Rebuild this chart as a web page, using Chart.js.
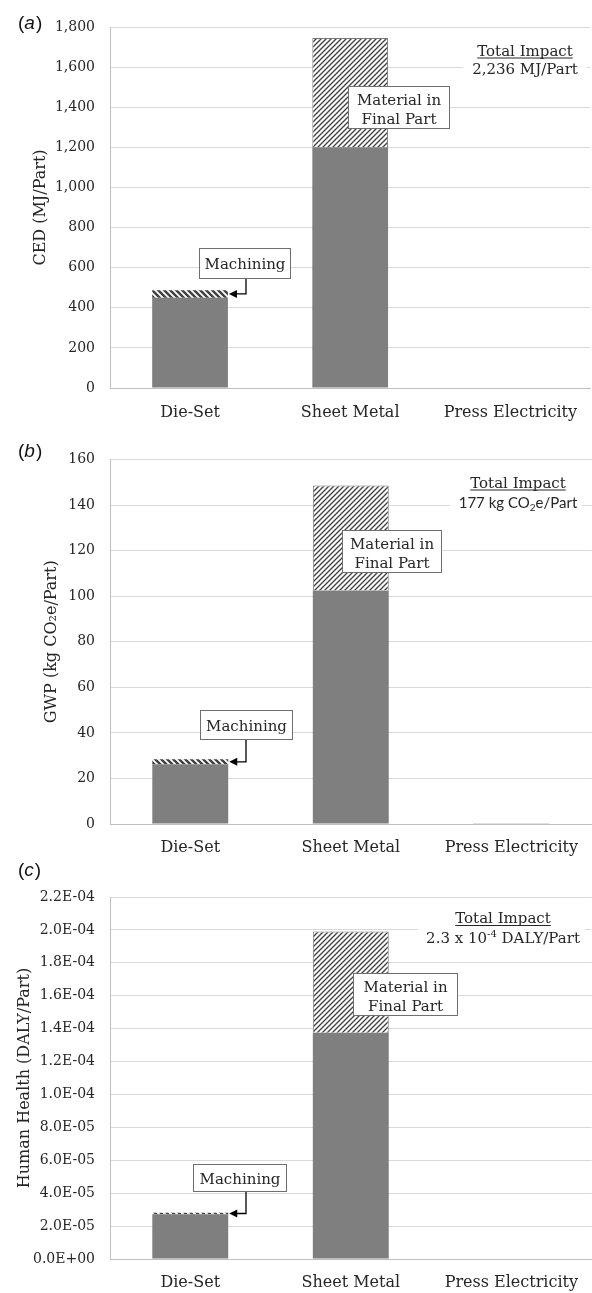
<!DOCTYPE html>
<html>
<head>
<meta charset="utf-8">
<script src="https://cdn.jsdelivr.net/npm/chart.js@4.4.1/dist/chart.umd.min.js"></script>
<style>
  body { margin: 0; background: #fff; }
  canvas { position: absolute; left: 0; }
</style>
</head>
<body>
<canvas id="cedChart" width="592" height="430" style="top:0px"></canvas>
<canvas id="gwpChart" width="592" height="430" style="top:430px"></canvas>
<canvas id="hhChart" width="592" height="433" style="top:860px"></canvas>
<script>
const categories = ['Die-Set', 'Sheet Metal', 'Press Electricity'];

// (a) CED, MJ/Part
const cedBase = [450, 1200, 3];
const cedMachining = [38, null, null];
const cedMaterial = [null, 545, null];
const cedTicks = [0, 200, 400, 600, 800, 1000, 1200, 1400, 1600, 1800];
const cedTickLabels = ['0', '200', '400', '600', '800', '1,000', '1,200', '1,400', '1,600', '1,800'];

// (b) GWP, kg CO2e/Part
const gwpBase = [26.2, 102.5, 0.3];
const gwpMachining = [2.2, null, null];
const gwpMaterial = [null, 46.1, null];
const gwpTicks = [0, 20, 40, 60, 80, 100, 120, 140, 160];
const gwpTickLabels = ['0', '20', '40', '60', '80', '100', '120', '140', '160'];

// (c) Human health, DALY/Part
const hhBase = [2.72e-5, 1.375e-4, 3e-7];
const hhMachining = [0.09e-5, null, null];
const hhMaterial = [null, 6.15e-5, null];
const hhTicks = [0, 2e-5, 4e-5, 6e-5, 8e-5, 1e-4, 1.2e-4, 1.4e-4, 1.6e-4, 1.8e-4, 2e-4, 2.2e-4];
const hhTickLabels = ['0.0E+00', '2.0E-05', '4.0E-05', '6.0E-05', '8.0E-05', '1.0E-04',
    '1.2E-04', '1.4E-04', '1.6E-04', '1.8E-04', '2.0E-04', '2.2E-04'];

const SERIF = "'DejaVu Serif', serif";
const SANS = "Lato, 'Open Sans', sans-serif";
const TEXT = '#262626';

Chart.defaults.font.family = SERIF;
Chart.defaults.color = TEXT;

// annotation layout per panel (canvas pixels)
const notes = {
    cedChart: {
        letter: 'a', letterY: 29,
        machBox: [199, 248, 291, 279], arrowX: 246,
        matBox: [348, 86, 450, 129],
        totalBg: [463, 38, 587, 80], totalX: 525, totalY: [55.5, 74],
        totalText: [{t: '2,236 MJ/Part', font: '15px ' + SERIF}]
    },
    gwpChart: {
        letter: 'b', letterY: 27,
        machBox: [200, 280, 293, 310], arrowX: 246,
        matBox: [342, 100, 442, 143],
        totalBg: [450, 40, 582, 86], totalX: 518, totalY: [57.5, 78],
        totalText: [
            {t: '177 kg CO', font: '15px ' + SANS},
            {t: '2', font: '10px ' + SANS, dy: 3},
            {t: 'e/Part', font: '15px ' + SANS}
        ]
    },
    hhChart: {
        letter: 'c', letterY: 16,
        machBox: [193, 304, 287, 332], arrowX: 246,
        matBox: [353, 113, 458, 156],
        totalBg: [418, 46, 585, 88], totalX: 503, totalY: [63, 83],
        totalText: [
            {t: '2.3 x 10', font: '15px ' + SERIF},
            {t: '-4', font: '10px ' + SERIF, dy: -6},
            {t: ' DALY/Part', font: '15px ' + SERIF}
        ]
    }
};

function makeHatch(ctx, dir, size, lineW, color) {
    const c = document.createElement('canvas');
    c.width = size;
    c.height = size;
    const g = c.getContext('2d');
    g.fillStyle = '#fff';
    g.fillRect(0, 0, size, size);
    g.strokeStyle = color;
    g.lineWidth = lineW;
    g.beginPath();
    if (dir === '/') {
        g.moveTo(-1, size + 1); g.lineTo(size + 1, -1);
        g.moveTo(-1, 1); g.lineTo(1, -1);
        g.moveTo(size - 1, size + 1); g.lineTo(size + 1, size - 1);
    } else {
        g.moveTo(-1, -1); g.lineTo(size + 1, size + 1);
        g.moveTo(size - 1, -1); g.lineTo(size + 1, 1);
        g.moveTo(-1, size - 1); g.lineTo(1, size + 1);
    }
    g.stroke();
    return ctx.createPattern(c, 'repeat');
}

function drawRich(ctx, parts, cx, y) {
    let total = 0;
    parts.forEach(p => { ctx.font = p.font; p.w = ctx.measureText(p.t).width; total += p.w; });
    let x = cx - total / 2;
    ctx.textAlign = 'left';
    ctx.textBaseline = 'alphabetic';
    parts.forEach(p => { ctx.font = p.font; ctx.fillText(p.t, x, y + (p.dy || 0)); x += p.w; });
}

function drawBox(ctx, box, lines, baselines) {
    const [x1, y1, x2, y2] = box;
    ctx.fillStyle = '#fff';
    ctx.fillRect(x1, y1, x2 - x1, y2 - y1);
    ctx.strokeStyle = '#6f6f6f';
    ctx.lineWidth = 1;
    ctx.strokeRect(x1 + 0.5, y1 + 0.5, x2 - x1 - 1, y2 - y1 - 1);
    ctx.fillStyle = TEXT;
    ctx.font = '15px ' + SERIF;
    ctx.textAlign = 'center';
    ctx.textBaseline = 'alphabetic';
    lines.forEach((s, i) => ctx.fillText(s, (x1 + x2) / 2, y1 + baselines[i]));
}

const notesPlugin = {
    id: 'panelNotes',
    beforeDatasetsDraw(chart) {
        const n = notes[chart.canvas.id];
        const ctx = chart.ctx;
        ctx.save();
        ctx.fillStyle = '#fff';
        const r = n.totalBg;
        ctx.fillRect(r[0], r[1], r[2] - r[0], r[3] - r[1]);
        ctx.restore();
    },
    afterDraw(chart) {
        const n = notes[chart.canvas.id];
        const ctx = chart.ctx;
        ctx.save();

        // panel letter
        ctx.fillStyle = '#111';
        ctx.textAlign = 'left';
        ctx.textBaseline = 'alphabetic';
        ctx.font = "19px 'Liberation Sans', sans-serif";
        let x = 18;
        ctx.fillText('(', x, n.letterY);
        x += ctx.measureText('(').width;
        ctx.font = "italic 19px 'Liberation Sans', sans-serif";
        ctx.fillText(n.letter, x, n.letterY);
        x += ctx.measureText(n.letter).width + 1;
        ctx.font = "19px 'Liberation Sans', sans-serif";
        ctx.fillText(')', x, n.letterY);

        // total impact
        ctx.fillStyle = TEXT;
        ctx.font = '15px ' + SERIF;
        ctx.textAlign = 'center';
        ctx.fillText('Total Impact', n.totalX, n.totalY[0]);
        const w = ctx.measureText('Total Impact').width;
        ctx.strokeStyle = TEXT;
        ctx.lineWidth = 1;
        ctx.beginPath();
        ctx.moveTo(n.totalX - w / 2, n.totalY[0] + 2.5);
        ctx.lineTo(n.totalX + w / 2, n.totalY[0] + 2.5);
        ctx.stroke();
        drawRich(ctx, n.totalText, n.totalX, n.totalY[1]);

        // material callout
        drawBox(ctx, n.matBox, ['Material in', 'Final Part'], [18.5, 37.5]);

        // machining callout with arrow to the hatched segment
        const b = n.machBox;
        drawBox(ctx, b, ['Machining'], [(b[3] - b[1]) / 2 + 5.5]);
        const bar = chart.getDatasetMeta(1).data[0];
        const tipX = bar.x + bar.width / 2 + 1;
        const tipY = (bar.y + bar.base) / 2;
        ctx.strokeStyle = '#000';
        ctx.lineWidth = 1.3;
        ctx.beginPath();
        ctx.moveTo(n.arrowX, b[3]);
        ctx.lineTo(n.arrowX, tipY);
        ctx.lineTo(tipX + 6, tipY);
        ctx.stroke();
        ctx.fillStyle = '#000';
        ctx.beginPath();
        ctx.moveTo(tipX, tipY);
        ctx.lineTo(tipX + 8, tipY - 4);
        ctx.lineTo(tipX + 8, tipY + 4);
        ctx.closePath();
        ctx.fill();
        ctx.restore();
    }
};

function buildChart(id, title, base, machining, material, ticks, tickLabels, lay) {
    const ctx = document.getElementById(id).getContext('2d');
    return new Chart(ctx, {
        type: 'bar',
        data: {
            labels: categories,
            datasets: [
                {label: 'Process', data: base, backgroundColor: '#7f7f7f', borderWidth: 0},
                {label: 'Machining', data: machining,
                    backgroundColor: makeHatch(ctx, '\\', 6, 2.4, '#3f3f3f'), borderWidth: 0},
                {label: 'Material in Final Part', data: material,
                    backgroundColor: makeHatch(ctx, '/', 5, 1.4, '#444'),
                    borderColor: '#7a7a7a', borderWidth: 1}
            ]
        },
        options: {
            responsive: false,
            animation: false,
            events: [],
            layout: {padding: {top: lay.top, left: 0, right: 0, bottom: 0}},
            datasets: {bar: {barPercentage: 0.473, categoryPercentage: 1}},
            scales: {
                x: {
                    stacked: true,
                    grid: {display: false, drawTicks: false},
                    border: {display: true, color: '#bfbfbf'},
                    ticks: {padding: lay.xPad, font: {size: 16}, color: TEXT},
                    afterFit: s => { s.height = lay.xHeight; }
                },
                y: {
                    stacked: true,
                    min: 0,
                    max: ticks[ticks.length - 1],
                    afterBuildTicks: s => { s.ticks = ticks.map(v => ({value: v})); },
                    ticks: {
                        callback: (v, i) => tickLabels[i],
                        padding: 15,
                        font: {size: 14},
                        color: TEXT
                    },
                    grid: {color: '#d9d9d9', drawTicks: false},
                    border: {display: true, color: '#bfbfbf'},
                    title: {
                        display: true,
                        text: title,
                        font: {size: 16},
                        color: TEXT,
                        padding: {top: lay.titlePad, bottom: 0}
                    },
                    afterFit: s => { s.width = 110; }
                }
            },
            plugins: {legend: {display: false}, tooltip: {enabled: false}}
        },
        plugins: [notesPlugin]
    });
}

buildChart('cedChart', 'CED (MJ/Part)', cedBase, cedMachining, cedMaterial, cedTicks, cedTickLabels,
    {top: 27, xHeight: 42, xPad: 15, titlePad: 31});
buildChart('gwpChart', 'GWP (kg CO\u2082e/Part)', gwpBase, gwpMachining, gwpMaterial, gwpTicks, gwpTickLabels,
    {top: 29.5, xHeight: 36, xPad: 14, titlePad: 42});
buildChart('hhChart', 'Human Health (DALY/Part)', hhBase, hhMachining, hhMaterial, hhTicks, hhTickLabels,
    {top: 37, xHeight: 34, xPad: 14, titlePad: 15});
</script>
</body>
</html>
